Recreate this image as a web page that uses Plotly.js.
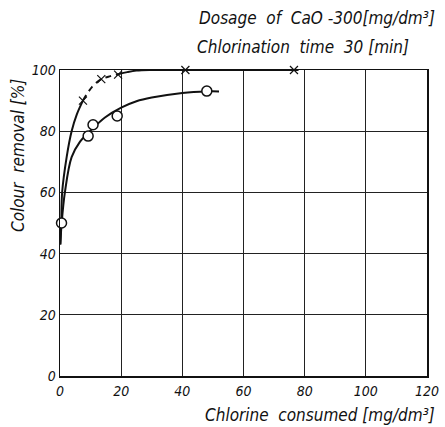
<!DOCTYPE html>
<html>
<head>
<meta charset="utf-8">
<script src="https://cdn.plot.ly/plotly-3.0.1.min.js"></script>
<style>html,body{margin:0;padding:0;background:#fff;}#chart{width:445px;height:427px;}</style>
</head>
<body>
<div id="chart"></div>
<script>
// Measured points
const crossX = [7.5, 13.5, 19, 41, 76.5];
const crossY = [90, 97, 98.5, 100, 100];
const circleX = [0.5, 9.2, 10.8, 18.7, 48];
const circleY = [50, 78.4, 82.1, 85, 93.1];

// Hand-drawn curves
const upperSolidAX = [0.1, 0.4, 0.7, 2.2, 3.8, 5.5, 7.5];
const upperSolidAY = [43, 50, 60, 71.7, 80, 85.5, 90];
const upperDashX = [7.5, 10.5, 13.5, 16.5, 19];
const upperDashY = [90, 94.5, 97, 98, 98.6];
const upperSolidBX = [19, 22, 25, 30, 41, 60, 76.5, 78];
const upperSolidBY = [98.6, 99.3, 99.8, 100, 100, 100, 100, 100];
const lowerX = [0.1, 0.55, 1.6, 3.8, 6.5, 9.8, 14.7, 20, 25, 30, 40, 48, 52];
const lowerY = [43, 50, 60, 71.5, 76.5, 80, 84.5, 87.7, 89.8, 91, 92.5, 93, 93];

const xTicks = [0, 20, 40, 60, 80, 100, 120];
const yTicks = [0, 20, 40, 60, 80, 100];

const FONT = 'DejaVu Sans Condensed, sans-serif';
const lineStyle = {color: '#111', width: 2, shape: 'spline', smoothing: 1};

const traces = [
  {x: upperSolidAX, y: upperSolidAY, mode: 'lines', line: lineStyle, cliponaxis: false},
  {x: upperDashX, y: upperDashY, mode: 'lines', line: Object.assign({}, lineStyle, {dash: '6px,5px'}), cliponaxis: false},
  {x: upperSolidBX, y: upperSolidBY, mode: 'lines', line: lineStyle, cliponaxis: false},
  {x: lowerX, y: lowerY, mode: 'lines', line: lineStyle, cliponaxis: false},
  {x: crossX, y: crossY, mode: 'markers', cliponaxis: false,
   marker: {symbol: 'x-thin-open', size: 8, color: '#111', line: {color: '#111', width: 1.2}}},
  {x: circleX, y: circleY, mode: 'markers', cliponaxis: false,
   marker: {symbol: 'circle', size: 10, color: '#fff', line: {color: '#111', width: 1.5}}}
];

const tickFont = {family: FONT, size: 14, style: 'italic', color: '#111'};
const titleFont = {family: FONT, size: 17, style: 'italic', color: '#111'};

const layout = {
  width: 445, height: 427,
  margin: {l: 60, r: 18, t: 70, b: 51},
  paper_bgcolor: '#fff', plot_bgcolor: '#fff',
  showlegend: false,
  font: {family: FONT, color: '#111', style: 'italic'},
  xaxis: {
    range: [0, 120], tickvals: xTicks, ticktext: xTicks.map(String),
    showgrid: true, gridcolor: '#222', gridwidth: 1, zeroline: false,
    showline: true, mirror: true, linecolor: '#111', linewidth: 1.5,
    ticks: 'outside', ticklen: 2, tickcolor: 'rgba(0,0,0,0)', tickfont: tickFont
  },
  yaxis: {
    range: [0, 100], tickvals: yTicks, ticktext: yTicks.map(String),
    showgrid: true, gridcolor: '#222', gridwidth: 1, zeroline: false,
    showline: true, mirror: true, linecolor: '#111', linewidth: 1.5,
    ticks: '', ticklen: 0, tickfont: tickFont
  },
  annotations: [
    {text: 'Dosage  of  CaO -300[mg/dm³]', xref: 'paper', yref: 'paper', x: 1.028, y: 1.17,
     xanchor: 'right', yanchor: 'middle', showarrow: false, font: titleFont},
    {text: 'Chlorination  time  30 [min]', xref: 'paper', yref: 'paper', x: 0.957, y: 1.075,
     xanchor: 'right', yanchor: 'middle', showarrow: false, font: titleFont},
    {text: 'Chlorine  consumed [mg/dm³]', xref: 'paper', yref: 'paper', x: 1.028, y: -0.128,
     xanchor: 'right', yanchor: 'middle', showarrow: false, font: titleFont},
    {text: 'Colour  removal [%]', xref: 'paper', yref: 'paper', x: -0.1145, y: 0.722,
     xanchor: 'center', yanchor: 'middle', textangle: -90, showarrow: false, font: titleFont}
  ]
};

Plotly.newPlot('chart', traces, layout, {displayModeBar: false, staticPlot: true});
</script>
</body>
</html>
